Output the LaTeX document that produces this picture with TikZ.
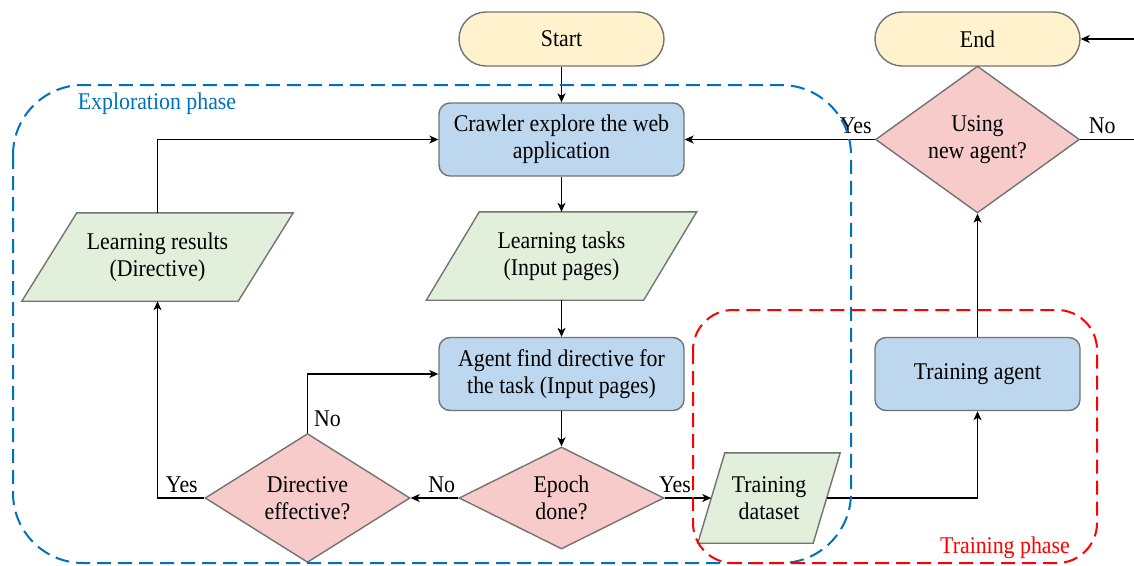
\documentclass[tikz,border=0pt]{standalone}
\usepackage{fontspec}
\setmainfont{Liberation Serif}[FakeStretch=0.91]
\usetikzlibrary{shapes.geometric,arrows.meta,calc}
\pgfdeclarelayer{background}
\pgfsetlayers{background,main}

\definecolor{termfill}{RGB}{255,242,204}
\definecolor{procfill}{RGB}{189,215,238}
\definecolor{iofill}{RGB}{226,239,218}
\definecolor{decfill}{RGB}{248,203,203}
\definecolor{shapeline}{RGB}{115,115,115}
\definecolor{explblue}{RGB}{0,112,192}
\definecolor{trainred}{RGB}{255,0,0}

\tikzset{
  base/.style={draw=shapeline, line width=1.4pt, align=center, inner sep=0pt},
  terminal/.style={base, fill=termfill, rounded corners=27pt,
    minimum width=205pt, minimum height=54pt},
  process/.style={base, fill=procfill, rounded corners=11pt,
    minimum width=245pt, minimum height=73pt},
  decision/.style={base, diamond, fill=decfill,
    minimum width=205pt, minimum height=102pt},
  iotext/.style={align=center, inner sep=0pt, minimum height=88pt},
  iobox/.style={draw=shapeline, line width=1.4pt, fill=iofill},
  flow/.style={line width=1.1pt, -{Stealth[length=9pt,width=8pt,inset=2.5pt]}},
  link/.style={line width=1.1pt},
  lbl/.style={inner sep=0pt},
  phase/.style={line width=2pt, dash pattern=on 14pt off 7pt},
}

% parallelogram behind a text node: #1 node name, #2 half of the slant
\newcommand\ioparallelogram[2]{%
  \begin{pgfonlayer}{background}
    \draw[iobox] ($(#1.north west)+(#2,0)$) -- ($(#1.north east)+(#2,0)$)
      -- ($(#1.south east)-(#2,0)$) -- ($(#1.south west)-(#2,0)$) -- cycle;
  \end{pgfonlayer}}

\begin{document}
\begin{tikzpicture}[x=1pt, y=-1pt, font=\fontsize{24}{27}\selectfont]
\useasboundingbox (0,0) rectangle (1134,565);

% nodes
\node[terminal] (start) at (561.5,39) {Start};
\node[terminal] (end) at (977.5,39) {End};
\node[process] (crawl) at (561.5,139.5) {Crawler explore the web\\application};
\node[iotext, minimum width=217pt] (tasks) at (561.5,256) {Learning tasks\\(Input pages)};
\node[iotext, minimum width=216pt] (results) at (157.5,257) {Learning results\\(Directive)};
\node[process] (agent) at (561.5,374) {Agent find directive for\\the task (Input pages)};
\node[decision] (epoch) at (561.5,498) {Epoch\\done?};
\node[decision] (effect) at (307.5,498) {Directive\\effective?};
\node[iotext, minimum width=115pt, minimum height=90pt] (dataset) at (769,498) {Training\\dataset};
\node[process, minimum width=205pt] (train) at (977.5,374) {Training agent};
\node[decision, minimum width=204pt] (usenew) at (977.5,139.5) {Using\\new agent?};

\ioparallelogram{tasks}{26.5}
\ioparallelogram{results}{27.5}
\ioparallelogram{dataset}{13.5}

\coordinate (noexit) at (1134,139.5);
\coordinate (endentry) at (1134,39);

% connectors
\draw[flow] (start) -- (crawl);
\draw[flow] (crawl) -- (tasks);
\draw[flow] (tasks) -- (agent);
\draw[flow] (agent) -- (epoch);
\draw[flow] (epoch) -- node[lbl, pos=0.35, anchor=south, yshift=5pt] (lno1) {No} (effect);
\draw[flow] (epoch) -- node[lbl, pos=0.22, anchor=south, yshift=5pt] (lyes1) {Yes} (dataset);
\draw[flow] (effect.north) |- node[lbl, pos=0.12, anchor=west, xshift=6pt] (lno2) {No} (agent.west);
\draw[flow] (effect.west) -| node[lbl, pos=0.24, anchor=south, yshift=5pt] (lyes2) {Yes} (results.south);
\draw[flow] (results.north) |- (crawl.west);
\draw[flow] (dataset.east) -| (train.south);
\draw[flow] (train) -- (usenew);
\draw[flow] (usenew.west) -- node[lbl, pos=0.1, anchor=south, yshift=5pt] (lyes3) {Yes} (crawl.east);
\draw[link] (usenew.east) -- node[lbl, pos=0.41, anchor=south, yshift=5pt] (lno3) {No} (noexit);
\draw[flow] (endentry) -- (end);

% phase frames
\draw[phase, draw=explblue, rounded corners=70pt] (13,85) rectangle (851,563);
\draw[phase, draw=trainred, rounded corners=40pt] (693,310) rectangle (1097,563);
\node[lbl, text=explblue] (explabel) at (157,104) {Exploration phase};
\node[lbl, text=trainred] (trainlabel) at (1005,548) {Training phase};
\end{tikzpicture}
\end{document}
